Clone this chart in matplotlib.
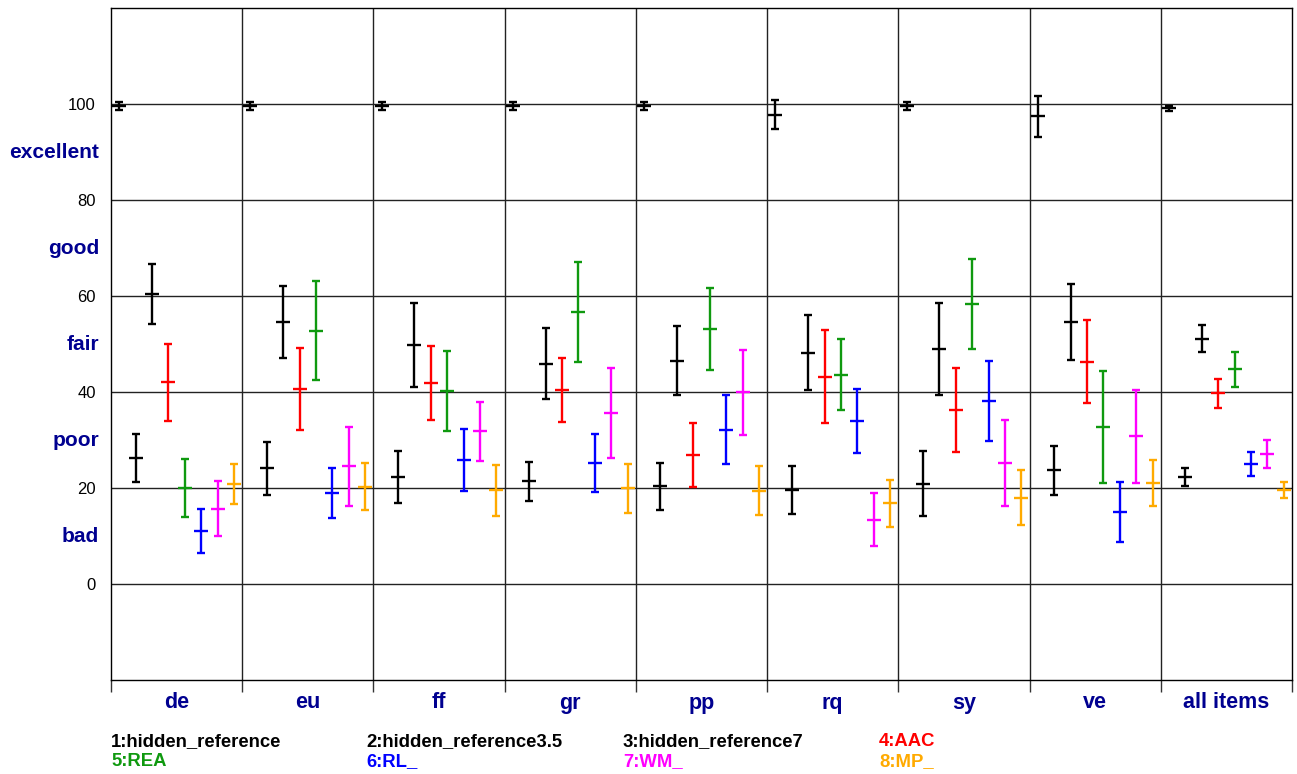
import numpy as np
import matplotlib
matplotlib.use("Agg")
import matplotlib.pyplot as plt
import matplotlib.transforms as mtransforms

plt.rcParams["font.family"] = ["Liberation Sans", "DejaVu Sans"]

# item groups on the x axis
items = ["de", "eu", "ff", "gr", "pp", "rq", "sy", "ve", "all items"]

# systems (legend order)
systems = ["1:hidden_reference", "2:hidden_reference3.5", "3:hidden_reference7", "4:AAC",
           "5:REA", "6:RL_", "7:WM_", "8:MP_"]
colors = ["black", "black", "black", "#FF0000", "#0F990F", "#0000FF", "#FF00FF", "#FFAA00"]

# mean scores per item
hr_mean = [99.6, 99.6, 99.6, 99.6, 99.6, 97.8, 99.6, 97.4, 99.1]
hr35_mean = [26.3, 24.1, 22.3, 21.4, 20.4, 19.6, 20.9, 23.7, 22.3]
hr7_mean = [60.4, 54.6, 49.8, 45.9, 46.5, 48.2, 49.0, 54.6, 51.1]
aac_mean = [42.0, 40.6, 41.9, 40.5, 26.9, 43.2, 36.3, 46.3, 39.7]
rea_mean = [20.0, 52.8, 40.2, 56.6, 53.1, 43.6, 58.3, 32.7, 44.7]
rl_mean = [11.0, 18.9, 25.8, 25.2, 32.1, 33.9, 38.1, 15.0, 25.0]
wm_mean = [15.7, 24.5, 31.8, 35.6, 39.9, 13.4, 25.2, 30.8, 27.1]
mp_mean = [20.8, 20.3, 19.5, 19.9, 19.4, 16.8, 18.0, 21.1, 19.6]

# 95% confidence half-widths
hr_ci = [0.75, 0.75, 0.75, 0.75, 0.75, 3.0, 0.75, 4.3, 0.55]
hr35_ci = [5.05, 5.55, 5.35, 4.1, 4.9, 4.95, 6.8, 5.15, 1.85]
hr7_ci = [6.3, 7.45, 8.7, 7.45, 7.15, 7.75, 9.55, 7.85, 2.85]
aac_ci = [8.05, 8.55, 7.7, 6.65, 6.65, 9.75, 8.8, 8.65, 2.95]
rea_ci = [6.05, 10.3, 8.25, 10.4, 8.6, 7.45, 9.4, 11.6, 3.6]
rl_ci = [4.6, 5.25, 6.4, 6.0, 7.2, 6.7, 8.35, 6.25, 2.6]
wm_ci = [5.7, 8.2, 6.1, 9.45, 8.9, 5.5, 9.05, 9.7, 2.95]
mp_ci = [4.2, 4.9, 5.35, 5.15, 5.1, 4.85, 5.65, 4.8, 1.65]

means = [hr_mean, hr35_mean, hr7_mean, aac_mean, rea_mean, rl_mean, wm_mean, mp_mean]
cis = [hr_ci, hr35_ci, hr7_ci, aac_ci, rea_ci, rl_ci, wm_ci, mp_ci]

yticks = [0, 20, 40, 60, 80, 100]
quality = ["bad", "poor", "fair", "good", "excellent"]
quality_pos = [10, 30, 50, 70, 90]

W, H = 1297, 774
fig = plt.figure(figsize=(W / 100, H / 100), dpi=100)
ax = fig.add_axes([111 / W, (H - 680) / H, (1292 - 111) / W, (680 - 8) / H])

n_items = len(items)
n_sys = len(systems)
x_base = np.arange(n_items)

for i in range(n_sys):
    xs = x_base + (i + 0.5) / n_sys
    ax.errorbar(xs, means[i], yerr=cis[i], fmt="_", color=colors[i],
                markersize=10, markeredgewidth=1.7, elinewidth=1.7,
                capsize=3.2, capthick=1.7, zorder=3)

# grid lines
for y in yticks:
    ax.axhline(y, color="#222222", lw=1.0, zorder=1)
for g in range(1, n_items):
    ax.axvline(g, color="#222222", lw=1.0, zorder=1)

ax.set_xlim(0, n_items)
ax.set_ylim(-20, 120)

ax.set_yticks(yticks)
ax.set_yticklabels([str(v) for v in yticks], fontsize=12)
ax.tick_params(axis="y", length=0, pad=11)

ax.set_xticks(range(n_items + 1))
ax.set_xticklabels([""] * (n_items + 1))
ax.tick_params(axis="x", which="major", direction="out", length=8.5, width=1, color="#333333")
ax.set_xticks(x_base + 0.5, minor=True)
ax.set_xticklabels(items, minor=True, fontsize=15.5, fontweight="bold", color="#000090")
ax.tick_params(axis="x", which="minor", length=0, pad=9)

for s in ax.spines.values():
    s.set_color("black")
    s.set_linewidth(1.0)

# quality scale labels on the left
trans = mtransforms.blended_transform_factory(ax.transAxes, ax.transData)
for q, y in zip(quality, quality_pos):
    ax.text(-0.0102, y, q, transform=trans, ha="right", va="center",
            fontsize=15, fontweight="bold", color="#000090")

# legend text below
col_x = [111, 366, 623, 879]
row_y = [742, 762]
for i, (name, c) in enumerate(zip(systems, colors)):
    fig.text(col_x[i % 4] / W, 1 - row_y[i // 4] / H, name, ha="left", va="center",
             fontsize=13.3, fontweight="bold", color=c)

fig.savefig("out.png", dpi=100)
